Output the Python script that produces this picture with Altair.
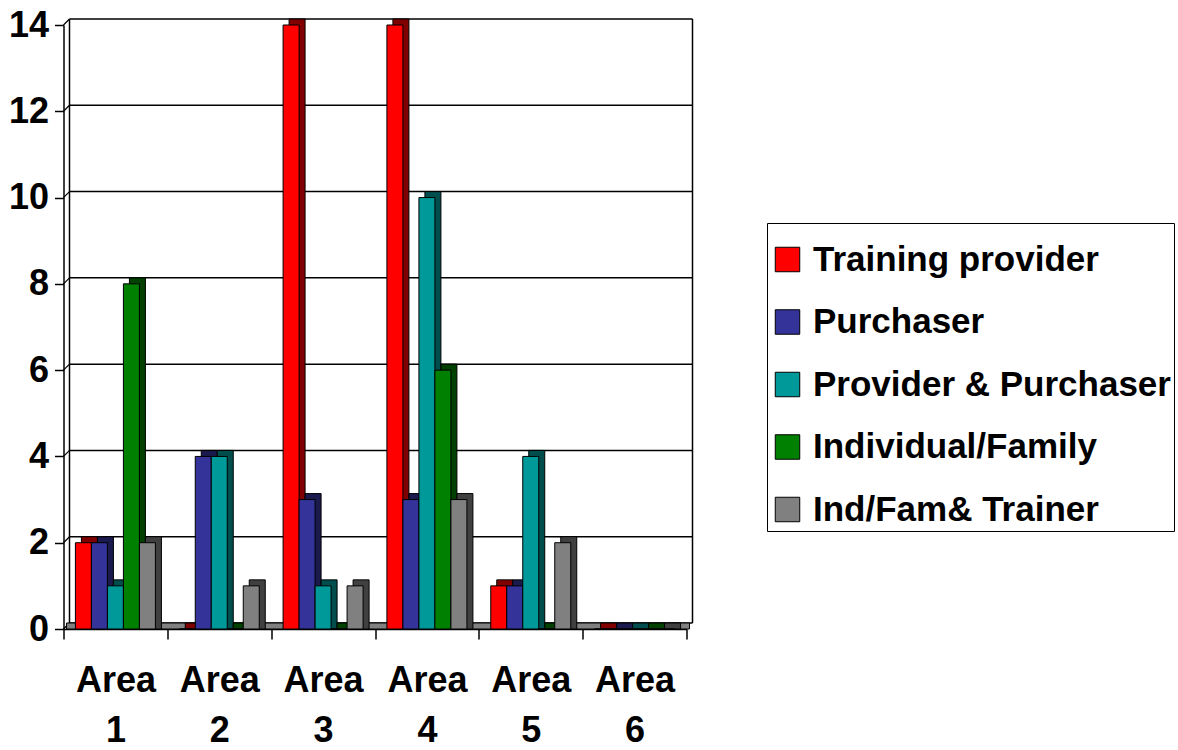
import altair as alt
import pandas as pd

areas = ["Area 1", "Area 2", "Area 3", "Area 4", "Area 5", "Area 6"]
series = ["Training provider", "Purchaser", "Provider & Purchaser",
          "Individual/Family", "Ind/Fam& Trainer"]
training_provider = [2, 0, 14, 14, 1, 0]
purchaser = [2, 4, 3, 3, 1, 0]
provider_purchaser = [1, 4, 1, 10, 4, 0]
individual_family = [8, 0, 0, 6, 0, 0]
indfam_trainer = [2, 1, 1, 3, 2, 0]
y_ticks = [0, 2, 4, 6, 8, 10, 12, 14]
colors = ["#FF0000", "#333399", "#009999", "#008000", "#808080"]
dark_colors = ["#800000", "#1A1A4D", "#004D4D", "#004000", "#404040"]

values = [training_provider, purchaser, provider_purchaser, individual_family, indfam_trainer]
rows = []
for s, vals, dc in zip(series, values, dark_colors):
    for a, v in zip(areas, vals):
        rows.append({"area": a, "series": s, "value": v, "dark": dc})
df = pd.DataFrame(rows)
grid_df = pd.DataFrame({"v": y_ticks})
one_df = pd.DataFrame({"k": [0]})

FONT = "Liberation Sans"
LEFT, TOP = 63.5, 25
W, H = 623, 604
band = W / len(areas)
DX, DY = 6, 6
PO = (band - 80) / 2 / 16

yscale = alt.Scale(domain=[0, 14], nice=False, zero=True)
y_axis = alt.Axis(values=y_ticks, labelFontSize=36, labelFontWeight="bold",
                  labelFont=FONT, labelColor="black", tickSize=9, labelPadding=6,
                  tickColor="black", domainColor="black", grid=False,
                  domainWidth=1.5, tickWidth=1.5)
x_axis = alt.Axis(labelExpr="isValid(datum.value) ? split(datum.value, ' ') : ''",
                  labelAngle=0, labelFontSize=36, labelFontWeight="bold", labelFont=FONT,
                  labelLineHeight=50, labelPadding=24, tickSize=10,
                  tickBand="extent", tickColor="black", domainColor="black",
                  labelColor="black", grid=False, domainWidth=1.5, tickWidth=1.5)
x_enc = alt.X("area:N", sort=areas, title=None,
              scale=alt.Scale(paddingInner=0, paddingOuter=0), axis=x_axis)
y_enc = alt.Y("value:Q", title=None, scale=yscale, axis=y_axis)
yv = alt.Y("v:Q", title=None, scale=yscale, axis=y_axis)

# back wall gridlines
grid = alt.Chart(grid_df).mark_rule(color="black", strokeWidth=1.5,
                                    yOffset=-DY).encode(
    x=alt.value(DX), x2=alt.value(W + DX), y=yv)
# diagonals connecting front axis ticks to back wall
diag = alt.Chart(grid_df).mark_rule(color="black", strokeWidth=1.2,
                                    y2Offset=-DY).encode(
    x=alt.value(0), x2=alt.value(DX), y=yv, y2=alt.Y2("v:Q"))
# back wall side lines
left_wall = alt.Chart(one_df).mark_rule(color="black", strokeWidth=1.5,
                                        yOffset=-DY, y2Offset=-DY).encode(
    x=alt.value(DX), y=alt.datum(14, scale=yscale, axis=y_axis, title=None),
    y2=alt.datum(0))
right_wall = alt.Chart(one_df).mark_rule(color="black", strokeWidth=1.5,
                                         yOffset=-DY, y2Offset=-DY).encode(
    x=alt.value(W + DX), y=alt.datum(14, scale=yscale, axis=y_axis, title=None),
    y2=alt.datum(0))
# floor
floor = alt.Chart(one_df).mark_rect(fill="#808080", stroke="black", strokeWidth=1,
                                    y2Offset=-DY).encode(
    x=alt.value(DX / 2), x2=alt.value(W + DX / 2),
    y=alt.datum(0, scale=yscale, axis=y_axis, title=None), y2=alt.datum(0))

# depth (side + top faces) of each bar
back = alt.Chart(df).mark_bar(stroke="black", strokeWidth=1, yOffset=-DY).encode(
    x=x_enc,
    xOffset=alt.XOffset("series:N", sort=series,
                        scale=alt.Scale(domain=series, range=[DX, band + DX],
                                        paddingInner=0, paddingOuter=PO)),
    y=y_enc,
    y2=alt.datum(0),
    fill=alt.Fill("dark:N", scale=None),
)

front = alt.Chart(df).mark_bar(stroke="black", strokeWidth=1).encode(
    x=x_enc,
    xOffset=alt.XOffset("series:N", sort=series,
                        scale=alt.Scale(domain=series, range=[0, band],
                                        paddingInner=0, paddingOuter=PO)),
    y=y_enc,
    color=alt.Color("series:N", sort=series,
                    scale=alt.Scale(domain=series, range=colors),
                    legend=alt.Legend(title=" ", titleFontSize=8, titlePadding=8,
                                      orient="none", legendX=767 - LEFT, legendY=223 - TOP,
                                      direction="vertical", symbolType="square",
                                      symbolSize=600, symbolStrokeColor="black",
                                      symbolStrokeWidth=1, symbolOpacity=1,
                                      labelFontSize=35, labelFontWeight="bold",
                                      labelFont=FONT, labelColor="black",
                                      labelOffset=8, rowPadding=26.5, padding=3,
                                      strokeColor="black", labelLimit=600)),
)

chart = alt.layer(grid, diag, left_wall, right_wall, floor, back, front).resolve_scale(
    xOffset="independent").properties(
    width=W, height=H,
    autosize=alt.AutoSizeParams(type="none"),
    padding={"left": LEFT, "top": TOP, "right": 1178 - LEFT - W, "bottom": 750 - TOP - H},
    background="white",
).configure_view(strokeWidth=0)

chart.save("out.html", embed_options={"renderer": "svg", "actions": False})
